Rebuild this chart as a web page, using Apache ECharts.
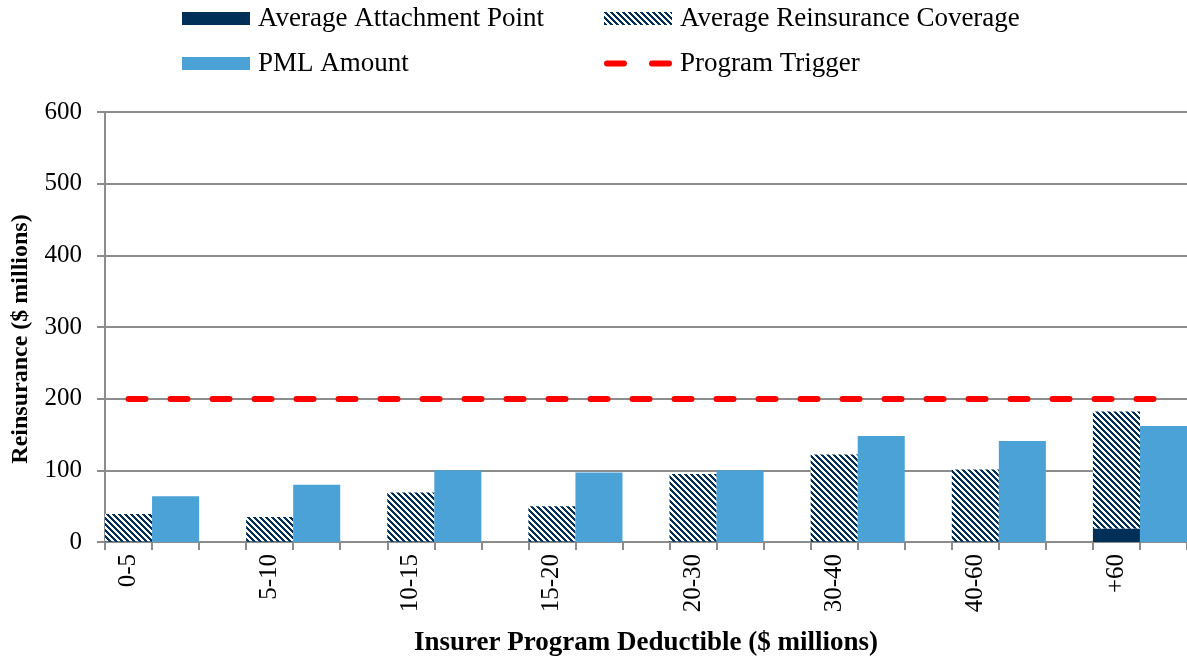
<!DOCTYPE html>
<html>
<head>
<meta charset="utf-8">
<script src="https://cdn.jsdelivr.net/npm/echarts@6/dist/echarts.min.js"></script>
<style>
  html, body { margin: 0; padding: 0; background: #fff; }
  #chart { width: 1187px; height: 662px; }
</style>
</head>
<body>
<div id="chart"></div>
<script>
// ---- Data ----
const categories = ['0-5', '5-10', '10-15', '15-20', '20-30', '30-40', '40-60', '+60'];
const attachment = [1, 1, 1, 1, 1, 1, 1, 19];
const coverage = [38, 34, 68, 49, 94, 121, 100, 163];
const pml = [64, 80, 100, 97, 100, 148, 141, 162];
const triggerLevel = 200;
const yTicks = [0, 100, 200, 300, 400, 500, 600];

// ---- Build the slot table (hatched bar, PML bar, spacer per group) ----
const xCats = [], attachData = [], covData = [], pmlData = [];
categories.forEach((c, i) => {
  xCats.push(c); attachData.push(attachment[i]); covData.push(coverage[i]); pmlData.push(null);
  xCats.push(c + ' PML'); attachData.push(null); covData.push(null); pmlData.push(pml[i]);
  if (i < categories.length - 1) {
    xCats.push(c + ' gap'); attachData.push(null); covData.push(null); pmlData.push(null);
  }
});

// ---- Hatch pattern ----
const NAVY = '#003057';
const cv = document.createElement('canvas');
cv.width = 6; cv.height = 6;
const cx = cv.getContext('2d');
cx.fillStyle = '#ffffff'; cx.fillRect(0, 0, 6, 6);
cx.fillStyle = NAVY;
for (let x = 0; x < 6; x++) for (let y = 0; y < 6; y++) {
  if ((((x - y) % 6) + 6) % 6 < 3) cx.fillRect(x, y, 1, 1);
}
const hatch = { image: cv, repeat: 'repeat' };

const FONT = 'Liberation Serif';
const legendBase = {
  orient: 'horizontal', padding: 0, itemWidth: 68, itemHeight: 13, icon: 'rect',
  textStyle: { fontFamily: FONT, fontSize: 27, color: '#000', padding: [0, 0, 0, 3] }
};

const chart = echarts.init(document.getElementById('chart'), null, { renderer: 'canvas' });
chart.setOption({
  animation: false,
  backgroundColor: '#fff',
  legend: [
    Object.assign({}, legendBase, { left: 182, top: 5, data: ['Average Attachment Point'] }),
    Object.assign({}, legendBase, { left: 604, top: 5, data: ['Average Reinsurance Coverage'] }),
    Object.assign({}, legendBase, { left: 182, top: 50, data: ['PML Amount'] }),
    Object.assign({}, legendBase, {
      left: 604, top: 50, data: ['Program Trigger'], itemHeight: 6,
      icon: 'path://M3,0L20,0A3,3,0,0,1,20,6L3,6A3,3,0,0,1,3,0Z M48,0L65,0A3,3,0,0,1,65,6L48,6A3,3,0,0,1,48,0Z',
      itemStyle: { color: '#ff0000', borderWidth: 0 }
    })
  ],
  grid: { left: 105, right: 0, top: 112, bottom: 120, containLabel: false, outerBoundsMode: 'none' },
  xAxis: {
    type: 'category',
    data: xCats,
    boundaryGap: true,
    name: 'Insurer Program Deductible ($ millions)',
    nameLocation: 'middle',
    nameGap: 88,
    nameTextStyle: { fontFamily: FONT, fontSize: 27, fontWeight: 'bold', color: '#000', verticalAlign: 'top' },
    axisLine: { lineStyle: { color: '#8c8c8c', width: 2 } },
    axisTick: { show: true, interval: 0, length: 8, lineStyle: { color: '#8c8c8c', width: 2 } },
    axisLabel: {
      interval: 0, rotate: 90, margin: 12,
      fontFamily: FONT, fontSize: 25, color: '#000',
      formatter: (v) => categories.includes(v) ? v : ''
    },
    splitLine: { show: false }
  },
  yAxis: {
    type: 'value',
    min: yTicks[0], max: yTicks[yTicks.length - 1], interval: 100,
    name: 'Reinsurance ($ millions)',
    nameLocation: 'middle',
    nameGap: 72,
    nameTextStyle: { fontFamily: FONT, fontSize: 24, fontWeight: 'bold', color: '#000', padding: [0, 24, 0, 0] },
    axisLine: { show: true, lineStyle: { color: '#8c8c8c', width: 2 } },
    axisTick: { show: true, length: 8, lineStyle: { color: '#8c8c8c', width: 2 } },
    axisLabel: { margin: 23, fontFamily: FONT, fontSize: 25, color: '#000' },
    splitLine: { show: true, lineStyle: { color: '#8c8c8c', width: 2 } }
  },
  series: [
    {
      name: 'Average Attachment Point', type: 'bar', stack: 'reins',
      data: attachData, barGap: '-100%', barCategoryGap: '0%',
      itemStyle: { color: NAVY }
    },
    {
      name: 'Average Reinsurance Coverage', type: 'bar', stack: 'reins',
      data: covData, barGap: '-100%', barCategoryGap: '0%',
      itemStyle: { color: hatch }
    },
    {
      name: 'PML Amount', type: 'bar',
      data: pmlData, barGap: '-100%', barCategoryGap: '0%',
      itemStyle: { color: '#4ba2d6' }
    },
    {
      name: 'Program Trigger', type: 'line', data: [],
      itemStyle: { color: '#ff0000' },
      lineStyle: { color: '#ff0000', width: 6, type: [17, 25] },
      markLine: {
        silent: true, symbol: 'none', label: { show: false },
        lineStyle: { color: '#ff0000', width: 6, type: [17, 25], cap: 'round' },
        data: [[{ coord: [0, triggerLevel] }, { coord: [xCats.length - 1, triggerLevel] }]]
      }
    }
  ]
});
</script>
</body>
</html>
